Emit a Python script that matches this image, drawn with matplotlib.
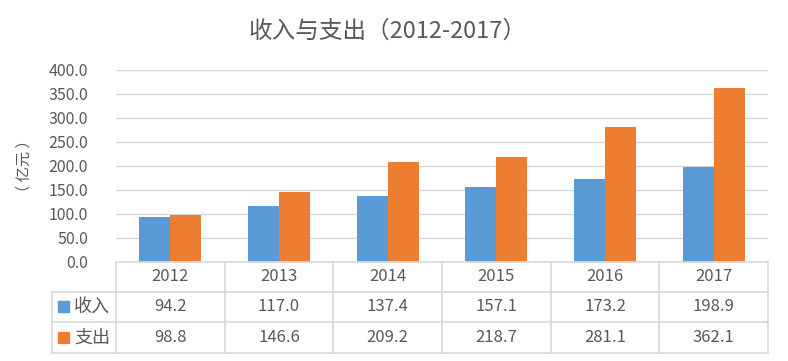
import numpy as np
import matplotlib.pyplot as plt
from matplotlib.patches import Rectangle

plt.rcParams['font.family'] = ['Noto Sans CJK SC', 'DejaVu Sans']

# 数据
years = ['2012', '2013', '2014', '2015', '2016', '2017']
income = [94.2, 117.0, 137.4, 157.1, 173.2, 198.9]
expense = [98.8, 146.6, 209.2, 218.7, 281.1, 362.1]
series_names = ['收入', '支出']
colors = ['#5B9BD5', '#ED7D31']
text_color = '#595959'
grid_color = '#D9D9D9'

W, H = 788, 361
fig = plt.figure(figsize=(W / 100, H / 100), dpi=100)

# 绘图区（像素坐标换算）
left, right, top, bottom = 116, 768, 70, 262
ax = fig.add_axes([left / W, 1 - bottom / H, (right - left) / W, (bottom - top) / H])

x = np.arange(len(years))
bw = 0.286
ax.bar(x - bw / 2, income, bw, color=colors[0], zorder=3)
ax.bar(x + bw / 2, expense, bw, color=colors[1], zorder=3)

ax.set_xlim(-0.5, len(years) - 0.5)
ax.set_ylim(0, 400)
ax.set_yticks(np.arange(0, 401, 50))
ax.set_yticklabels([f'{v:.1f}' for v in np.arange(0, 401, 50)], fontsize=11.5, color=text_color)
ax.yaxis.grid(True, color=grid_color, linewidth=1, zorder=0)
ax.set_xticks([])
ax.tick_params(axis='y', length=0, pad=20)
for s in ax.spines.values():
    s.set_visible(False)
ax.set_ylabel('（ 亿元 ）', fontsize=11, color=text_color)
ax.yaxis.set_label_coords((33 - left) / (right - left), 0.5)

# 数据表
tleft = 52
row_y = [262, 292, 322, 353]
tab = fig.add_axes([tleft / W, 1 - row_y[-1] / H, (right - tleft) / W, (row_y[-1] - row_y[0]) / H])
tab.set_xlim(tleft, right)
tab.set_ylim(row_y[-1], row_y[0])
tab.axis('off')

col_w = (right - left) / len(years)
col_x = [left + i * col_w for i in range(len(years) + 1)]
lc = '#D9D9D9'
# 横线
tab.plot([left, right], [row_y[0], row_y[0]], color=lc, lw=1.2, clip_on=False)
for yy in row_y[1:]:
    tab.plot([tleft, right], [yy, yy], color=lc, lw=1.2, clip_on=False)
# 竖线
tab.plot([tleft, tleft], [row_y[1], row_y[3]], color=lc, lw=1.2, clip_on=False)
for xx in col_x:
    tab.plot([xx, xx], [row_y[0], row_y[3]], color=lc, lw=1.2, clip_on=False)

for i, yr in enumerate(years):
    cx = (col_x[i] + col_x[i + 1]) / 2
    tab.text(cx, (row_y[0] + row_y[1]) / 2, yr, ha='center', va='center', fontsize=12, color=text_color)
    tab.text(cx, (row_y[1] + row_y[2]) / 2, f'{income[i]:.1f}', ha='center', va='center', fontsize=12, color=text_color)
    tab.text(cx, (row_y[2] + row_y[3]) / 2, f'{expense[i]:.1f}', ha='center', va='center', fontsize=12, color=text_color)

for j, name in enumerate(series_names):
    cy = (row_y[j + 1] + row_y[j + 2]) / 2
    tab.add_patch(Rectangle((58, cy - 5.5), 11, 11, color=colors[j], clip_on=False))
    tab.text(74, cy, name, ha='left', va='center', fontsize=13, color=text_color)

fig.text(388 / W, 1 - 31 / H, '收入与支出（2012-2017）', ha='center', va='center',
         fontsize=17, color=text_color)

fig.savefig('out.png', dpi=100)
